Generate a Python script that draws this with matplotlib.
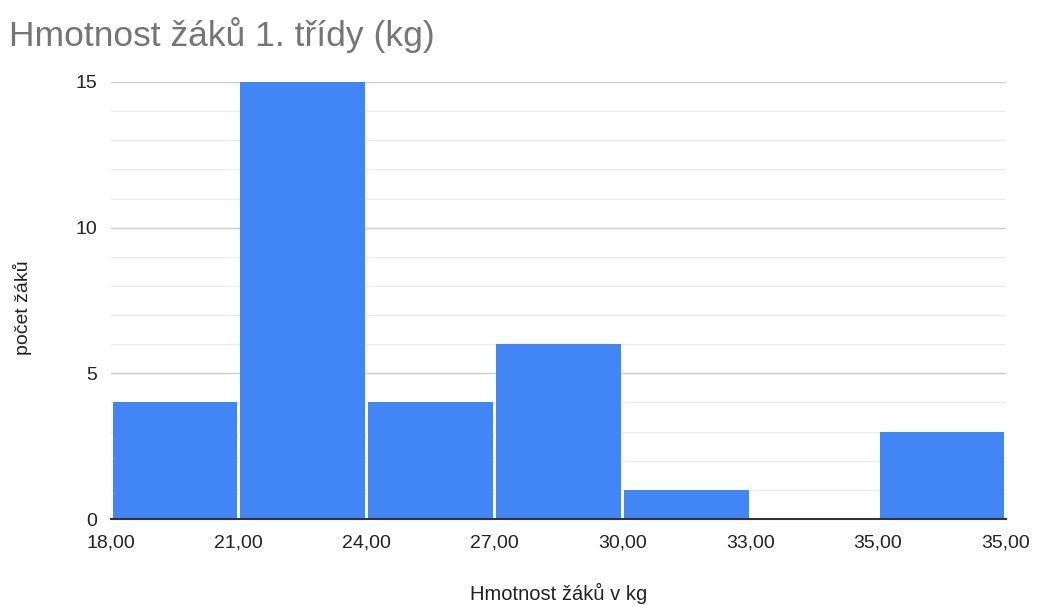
import matplotlib.pyplot as plt
import numpy as np

plt.rcParams['font.family'] = ['Liberation Sans', 'DejaVu Sans']

# histogram data
edge_labels = ['18,00', '21,00', '24,00', '27,00', '30,00', '33,00', '35,00', '35,00']
counts = [4, 15, 4, 6, 1, 0, 3]

fig = plt.figure(figsize=(10.38, 6.05), dpi=100)
ax = fig.add_axes([0.1069, 0.1421, 0.8622, 0.7224])

x = np.arange(len(counts))
ax.bar(x + 0.5, counts, width=0.975, color='#4285F4', zorder=3)

ax.set_xlim(0, len(counts))
ax.set_ylim(0, 15)
ax.set_xticks(np.arange(len(edge_labels)))
ax.set_xticklabels(edge_labels)
ax.set_yticks([0, 5, 10, 15])
ax.set_yticks(np.arange(0, 16, 1), minor=True)

ax.grid(axis='y', which='major', color='#cccccc', linewidth=1, zorder=0)
ax.grid(axis='y', which='minor', color='#ebebeb', linewidth=1, zorder=0)
ax.tick_params(axis='both', which='both', length=0, labelsize=14, labelcolor='#222222')
ax.tick_params(axis='x', pad=11)
ax.tick_params(axis='y', pad=10)

for s in ['top', 'right', 'left']:
    ax.spines[s].set_visible(False)
ax.spines['bottom'].set_color('#333333')
ax.spines['bottom'].set_linewidth(1.5)
ax.spines['bottom'].set_zorder(4)

fig.text(0.5385, 1 - 593 / 605, 'Hmotnost žáků v kg', fontsize=14.5, color='#222222',
         ha='center', va='center')
fig.text(23 / 1038, 1 - 308 / 605, 'počet žáků', fontsize=14, color='#222222',
         ha='center', va='center', rotation=90)

fig.text(0.009, 0.942, 'Hmotnost žáků 1. třídy (kg)', fontsize=25.5, color='#757575',
         ha='left', va='center')

fig.savefig('out.png', dpi=100)
